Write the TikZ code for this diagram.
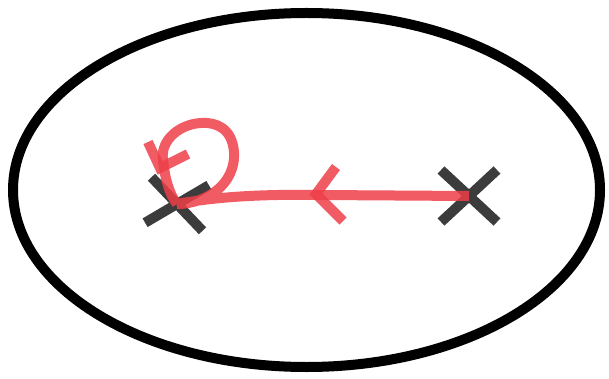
\documentclass[tikz,border=0pt]{standalone}
\usetikzlibrary{shapes.geometric, shapes.misc, positioning}

\definecolor{penred}{RGB}{238,62,72}
\definecolor{pengray}{RGB}{50,50,50}

\begin{document}
\begin{tikzpicture}[x=1pt, y=-1pt]
        \tikzstyle{rim} = [ellipse, draw=black, line width=10pt, minimum width=587pt, minimum height=354pt, inner sep=0pt]
        \tikzstyle{pole} = [cross out, draw=pengray, draw opacity=0.95, line width=10pt, inner sep=0pt]
        \tikzstyle{redline} = [draw=penred, draw opacity=0.85, line width=10pt]

        \useasboundingbox (0,0) rectangle (609,379);

        \node (disc) [rim] at (306.5,190) {};
        \node (left) [pole, minimum width=48pt, minimum height=36pt, rotate=-8] at (177,204) {};
        \node (right) [pole, minimum width=46pt, minimum height=42pt] at (469,196) {};

        % path from the right pole to the left one, then the small loop
        \draw [redline] (right.center) -- (320,195) .. controls (260,194) and (215,197) .. (left.center)
            .. controls (205,204) and (236,185) .. (234,152)
            .. controls (232,128) and (216,122) .. (201,123)
            .. controls (180,124) and (160,140) .. (163,160)
            .. controls (165,180) and (170,195) .. (left.center);

        % direction marks
        \coordinate (tipa) at (316,194);
        \draw [redline] (tipa) ++(20,-27) -- (tipa) -- ++(27,27);
        \coordinate (tipb) at (160,168);
        \draw [redline] (tipb) ++(-12,-26) -- (tipb) -- ++(28,-14);
\end{tikzpicture}
\end{document}
